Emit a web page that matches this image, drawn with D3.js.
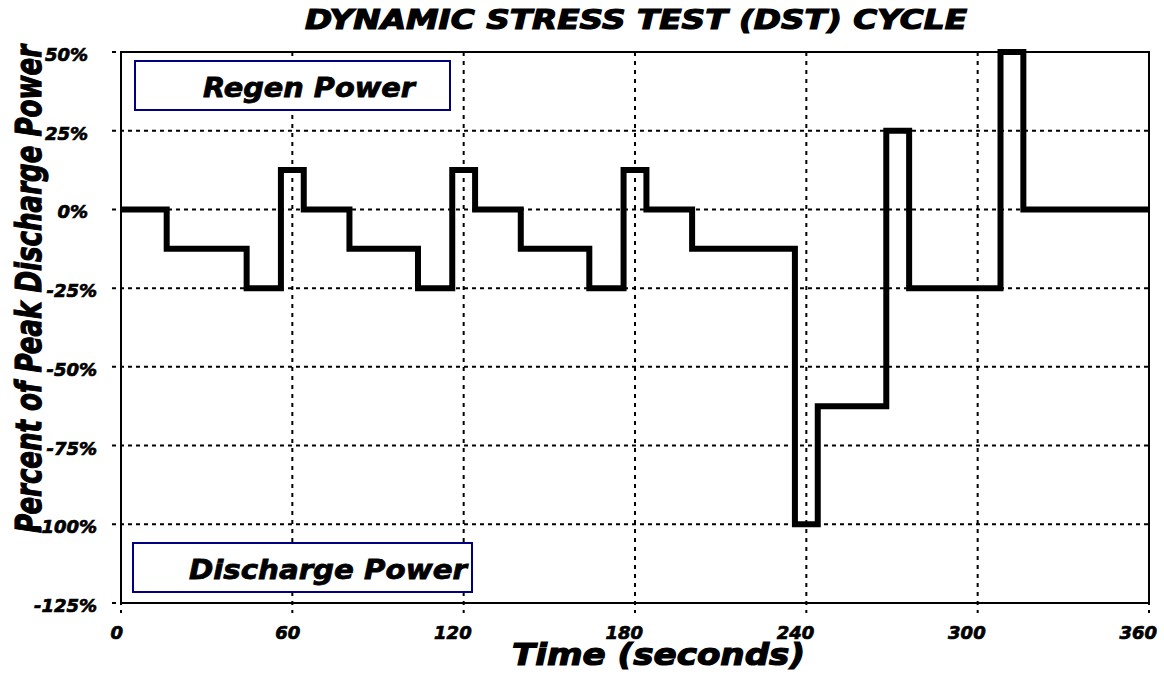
<!DOCTYPE html>
<html>
<head>
<meta charset="utf-8">
<script src="https://cdn.jsdelivr.net/npm/d3@7"></script>
<style>
  body { margin: 0; background: #fff; }
  text { font-family: "DejaVu Sans", sans-serif; font-weight: bold; font-style: italic; fill: #000; stroke: #000; stroke-width: 0.7px; }
  text.big { stroke-width: 1.2px; }
  text.boxlabel { stroke-width: 0.8px; }
</style>
</head>
<body>
<div id="chart"></div>
<script>
// DST cycle steps: duration (s) and power (% of peak discharge)
var stepDurations = [16, 28, 12, 8, 16, 24, 12, 8, 16, 24, 12, 8, 16, 36, 8, 24, 8, 32, 8, 44];
var stepPower = [0, -12.5, -25, 12.5, 0, -12.5, -25, 12.5, 0, -12.5, -25, 12.5, 0, -12.5, -100, -62.5, 25, -25, 50, 0];

var xTicks = [0, 60, 120, 180, 240, 300, 360];
var yTicks = [50, 25, 0, -25, -50, -75, -100, -125];
var yTickLabels = ["50%", "25%", "0%", "-25%", "-50%", "-75%", "-100%", "-125%"];

var width = 1164, height = 677;
// plot frame edges
var pLeft = 121, pRight = 1149, pTop = 52, pBottom = 603;

var svg = d3.select("#chart").append("svg")
    .attr("width", width)
    .attr("height", height);

var x = d3.scaleLinear().domain([0, 360]).range([pLeft, pRight]);
var y = d3.scaleLinear().domain([-125, 50]).range([pBottom, pTop]);

// build step points from durations
var points = [];
var t = 0;
for (let i = 0; i < stepDurations.length; ++i) {
    points.push([t, stepPower[i]]);
    t += stepDurations[i];
}
points.push([t, stepPower[stepPower.length - 1]]);

// grid lines (they run past the frame as ticks)
svg.append("g")
  .selectAll("line")
  .data(yTicks)
  .join("line")
    .attr("x1", pLeft - 9)
    .attr("x2", pRight)
    .attr("y1", d => y(d))
    .attr("y2", d => y(d))
    .attr("stroke", "#000")
    .attr("stroke-width", 2)
    .attr("stroke-dasharray", "4,4");

svg.append("g")
  .selectAll("line")
  .data(xTicks)
  .join("line")
    .attr("x1", d => x(d))
    .attr("x2", d => x(d))
    .attr("y1", pTop)
    .attr("y2", pBottom + 10)
    .attr("stroke", "#000")
    .attr("stroke-width", 2)
    .attr("stroke-dasharray", "4,5");

// frame
svg.append("rect")
    .attr("x", pLeft)
    .attr("y", pTop)
    .attr("width", pRight - pLeft)
    .attr("height", pBottom - pTop)
    .attr("fill", "none")
    .attr("stroke", "#000")
    .attr("stroke-width", 2);

// annotation boxes
function labelBox(x0, y0, x1, y1, label, tx, tlen, ty) {
    svg.append("rect")
        .attr("x", x0)
        .attr("y", y0)
        .attr("width", x1 - x0)
        .attr("height", y1 - y0)
        .attr("fill", "#fff")
        .attr("stroke", "#000080")
        .attr("stroke-width", 2);
    svg.append("text")
        .text(label)
        .attr("class", "boxlabel")
        .attr("x", tx)
        .attr("y", ty)
        .attr("font-size", 26)
        .attr("textLength", tlen)
        .attr("lengthAdjust", "spacingAndGlyphs");
}
labelBox(135, 61, 450, 110, "Regen Power", 203, 212, 97);
labelBox(133, 543, 472, 592, "Discharge Power", 189, 278, 579);

// the power profile
var line = d3.line()
    .x(d => x(d[0]))
    .y(d => y(d[1]))
    .curve(d3.curveStepAfter);

svg.append("path")
    .datum(points)
    .attr("d", line)
    .attr("fill", "none")
    .attr("stroke", "#000")
    .attr("stroke-width", 6);

// tick labels
svg.append("g")
  .selectAll("text")
  .data(yTicks)
  .join("text")
    .text((d, i) => yTickLabels[i])
    .attr("x", d => d < 0 ? 97 : 88)
    .attr("y", d => y(d) + 9)
    .attr("text-anchor", "end")
    .attr("font-size", 18);

svg.append("g")
  .selectAll("text")
  .data(xTicks)
  .join("text")
    .text(d => d)
    .attr("x", d => x(d) + (d == 0 ? 2 : 8))
    .attr("y", 639)
    .attr("text-anchor", "end")
    .attr("font-size", 18);

// title and axis titles
svg.append("text")
    .text("DYNAMIC STRESS TEST (DST) CYCLE")
    .attr("class", "big")
    .attr("x", 305)
    .attr("y", 29)
    .attr("font-size", 26)
    .attr("textLength", 662)
    .attr("lengthAdjust", "spacingAndGlyphs");

svg.append("text")
    .text("Time (seconds)")
    .attr("class", "big")
    .attr("x", 512)
    .attr("y", 665)
    .attr("font-size", 30)
    .attr("textLength", 293)
    .attr("lengthAdjust", "spacingAndGlyphs");

svg.append("text")
    .text("Percent of Peak Discharge Power")
    .attr("class", "big")
    .attr("transform", "translate(41,533) rotate(-90)")
    .attr("font-size", 36)
    .attr("textLength", 488)
    .attr("lengthAdjust", "spacingAndGlyphs");
</script>
</body>
</html>
